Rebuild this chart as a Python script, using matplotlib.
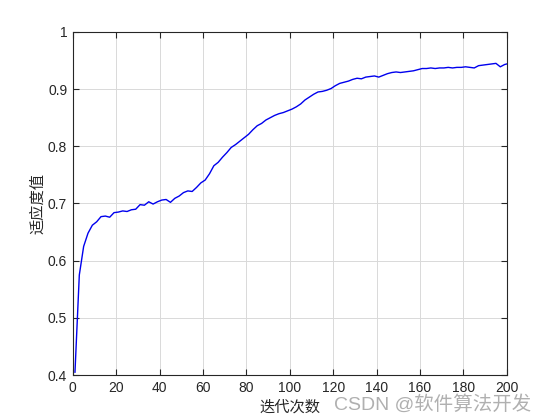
import numpy as np
import matplotlib
matplotlib.use('Agg')
import matplotlib.pyplot as plt

plt.rcParams['font.family'] = ['Liberation Sans', 'Noto Sans CJK SC', 'DejaVu Sans']

# generation index and fitness values
gens = list(range(1, 201, 2)) + [200]
fitness = [
    0.405, 0.575, 0.625, 0.648, 0.662, 0.668, 0.677, 0.678, 0.676, 0.684,
    0.685, 0.687, 0.686, 0.689, 0.690, 0.698, 0.697, 0.703, 0.699, 0.703,
    0.706, 0.707, 0.702, 0.709, 0.713, 0.719, 0.722, 0.721, 0.728, 0.736,
    0.741, 0.752, 0.766, 0.772, 0.781, 0.789, 0.798, 0.803, 0.809, 0.815,
    0.821, 0.829, 0.836, 0.840, 0.846, 0.850, 0.854, 0.857, 0.859, 0.862,
    0.865, 0.869, 0.874, 0.881, 0.886, 0.891, 0.895, 0.896, 0.898, 0.901,
    0.906, 0.910, 0.912, 0.914, 0.917, 0.919, 0.918, 0.921, 0.922, 0.923,
    0.921, 0.924, 0.927, 0.929, 0.930, 0.929, 0.930, 0.931, 0.932, 0.934,
    0.936, 0.936, 0.937, 0.936, 0.937, 0.937, 0.938, 0.937, 0.938, 0.938,
    0.939, 0.938, 0.937, 0.941, 0.942, 0.943, 0.944, 0.945, 0.939, 0.943,
    0.944,
]

xticks = [0, 20, 40, 60, 80, 100, 120, 140, 160, 180, 200]
yticks = [0.4, 0.5, 0.6, 0.7, 0.8, 0.9, 1.0]
ytick_labels = ['0.4', '0.5', '0.6', '0.7', '0.8', '0.9', '1']

fig = plt.figure(figsize=(5.6, 4.2), dpi=100)
ax = fig.add_axes([0.13, 0.107, 0.775, 0.817])

ax.plot(gens, fitness, color='#0000ee', linewidth=1.0)

ax.set_xlim(0, 200)
ax.set_ylim(0.4, 1.0)
ax.set_xticks(xticks)
ax.set_yticks(yticks)
ax.set_yticklabels(ytick_labels)
ax.grid(True, color='#d9d9d9', linewidth=0.7)
ax.set_axisbelow(True)
ax.tick_params(direction='in', length=4, width=0.8, colors='#262626',
               labelsize=10, top=True, right=True, pad=4)
for s in ax.spines.values():
    s.set_color('#262626')
    s.set_linewidth(0.8)

ax.set_xlabel('迭代次数', fontsize=11, color='#262626',
              family=['Noto Sans CJK SC'], labelpad=3)
ax.set_ylabel('适应度值', fontsize=11, color='#262626',
              family=['Noto Sans CJK SC'], labelpad=1)

# watermark
fig.text(0.948, 0.038, 'CSDN @软件算法开发', ha='right', va='center',
         fontsize=14, color='#b0b0b0',
         family=['Liberation Sans', 'Noto Sans CJK SC'])

fig.savefig('out.png', dpi=100)
